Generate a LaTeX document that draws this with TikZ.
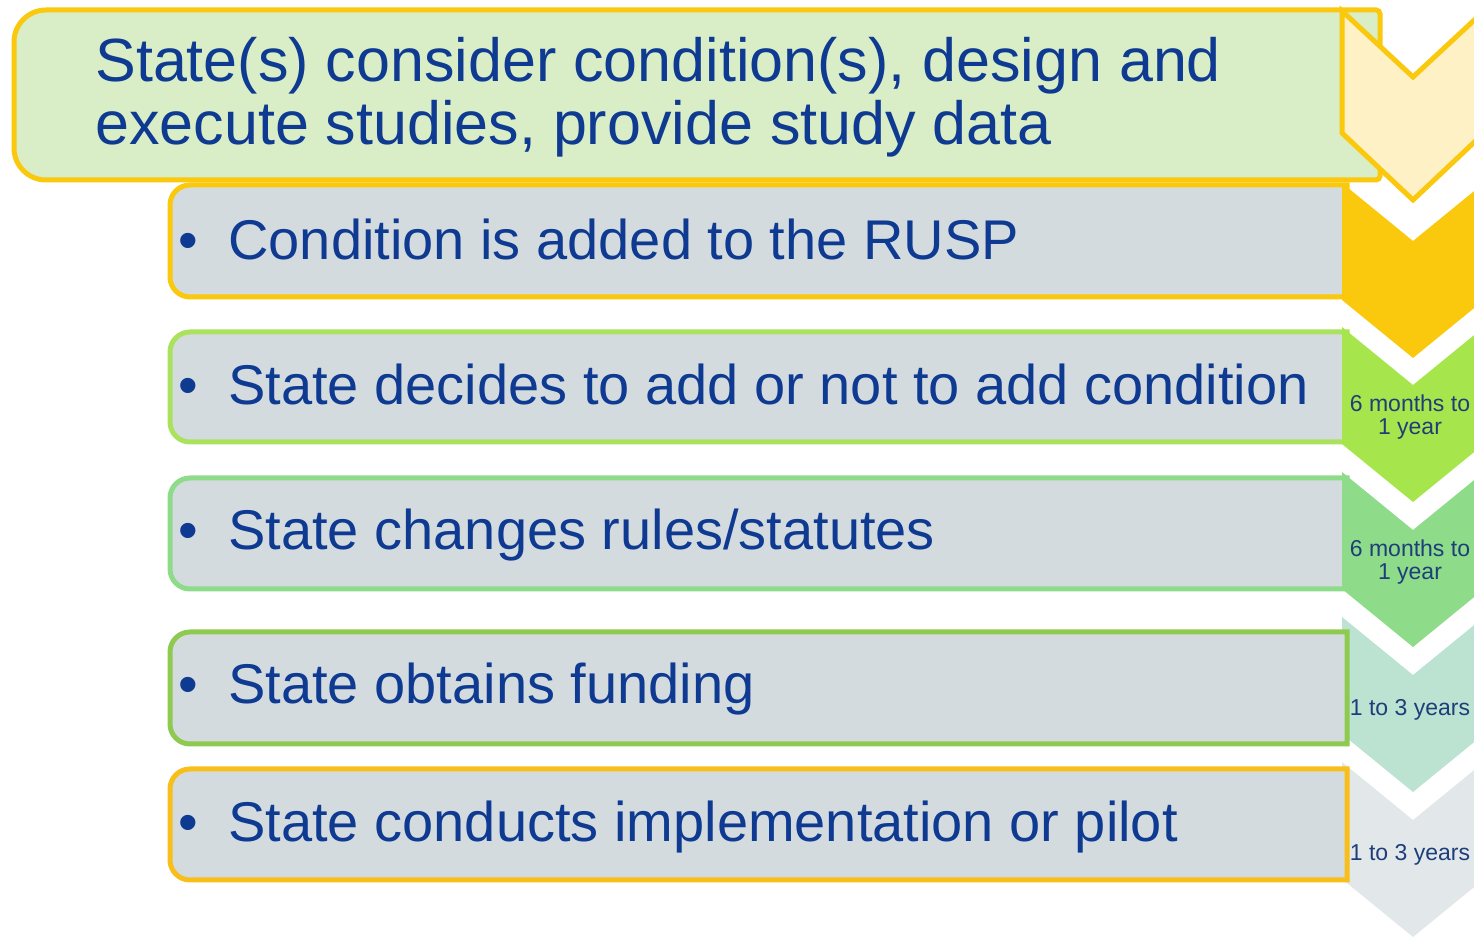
\documentclass[tikz,border=0pt]{standalone}
\usepackage{fontspec}
\setmainfont{Liberation Sans}
\definecolor{textblue}{RGB}{14,58,146}
\definecolor{timeblue}{RGB}{30,62,122}
\definecolor{gold}{RGB}{250,200,12}
\definecolor{boxgray}{RGB}{212,219,223}
\definecolor{palegreen}{RGB}{217,237,199}
\definecolor{paleyellow}{RGB}{255,241,198}
\definecolor{lime}{RGB}{166,230,76}
\definecolor{limeline}{RGB}{170,226,94}
\definecolor{mint}{RGB}{142,219,138}
\definecolor{seafoam}{RGB}{188,226,210}
\definecolor{grassline}{RGB}{142,202,80}
\definecolor{mist}{RGB}{226,232,234}
\definecolor{amber}{RGB}{248,190,26}

\newcommand{\chevronat}[2]{%
  \path[#1] (1342,#2) -- (1413,#2+58) -- (1484,#2) -- (1484,#2+117) -- (1413,#2+175) -- (1342,#2+117) -- cycle;}
\newcommand{\stepbox}[3]{%
  \filldraw[fill=boxgray, draw=#1, line width=2.5pt] (1347,#3) -- (1347,#2) -- (600,#2) [rounded corners=10pt] -- (170,#2) -- (170,#3) -- (600,#3) [sharp corners] -- cycle;}

\tikzset{
  steptext/.style = {anchor=base west, inner sep=0pt, text=textblue, font=\fontsize{28}{30}\selectfont},
  timetext/.style = {inner sep=0pt, align=center, text=timeblue, font=\fontsize{11.5}{11.5}\selectfont}
}

\begin{document}
\begin{tikzpicture}[x=0.5pt, y=-0.5pt]
\useasboundingbox (0,0) rectangle (1474,940);
\clip (0,0) rectangle (1474,940);
\filldraw[fill=palegreen, draw=gold, line width=2.5pt] (700,10) [rounded corners=2pt] -- (1380,10) -- (1380,180) -- (700,180) [rounded corners=16pt] -- (14,180) -- (14,10) -- cycle;
\node[anchor=base west, inner sep=0pt, align=left, text=textblue, font=\fontsize{30.5}{31.5}\selectfont] (studies) at (95,145) {State(s) consider condition(s), design and\\execute studies, provide study data};
\stepbox{gold}{185}{297}
\stepbox{limeline}{332}{442}
\stepbox{mint}{478}{589}
% the first chevron is a little deeper than the others
\filldraw[fill=paleyellow, draw=gold, line width=2.5pt] (1342,11) -- (1413,77) -- (1484,11) -- (1484,133) -- (1413,200) -- (1342,133) -- cycle;
\chevronat{fill=gold}{183}
\chevronat{fill=lime}{327}
\chevronat{fill=mint}{472}
\chevronat{fill=seafoam}{617}
\chevronat{fill=mist}{762}
\stepbox{grassline}{632}{744}
\stepbox{amber}{769}{880}
\node[steptext] (added) at (178,260) {\makebox[25pt][l]{\textbullet}Condition is added to the RUSP};
\node[steptext] (decides) at (178,405) {\makebox[25pt][l]{\textbullet}State decides to add or not to add condition};
\node[steptext] (rules) at (178,550) {\makebox[25pt][l]{\textbullet}State changes rules/statutes};
\node[steptext] (funding) at (178,704) {\makebox[25pt][l]{\textbullet}State obtains funding};
\node[steptext] (pilot) at (178,842) {\makebox[25pt][l]{\textbullet}State conducts implementation or pilot};
\node[timetext] (time3) at (1410,417) {6 months to\\1 year};
\node[timetext] (time4) at (1410,562) {6 months to\\1 year};
\node[timetext, anchor=base] (time5) at (1410,716) {1 to 3 years};
\node[timetext, anchor=base] (time6) at (1410,861) {1 to 3 years};
\end{tikzpicture}
\end{document}
